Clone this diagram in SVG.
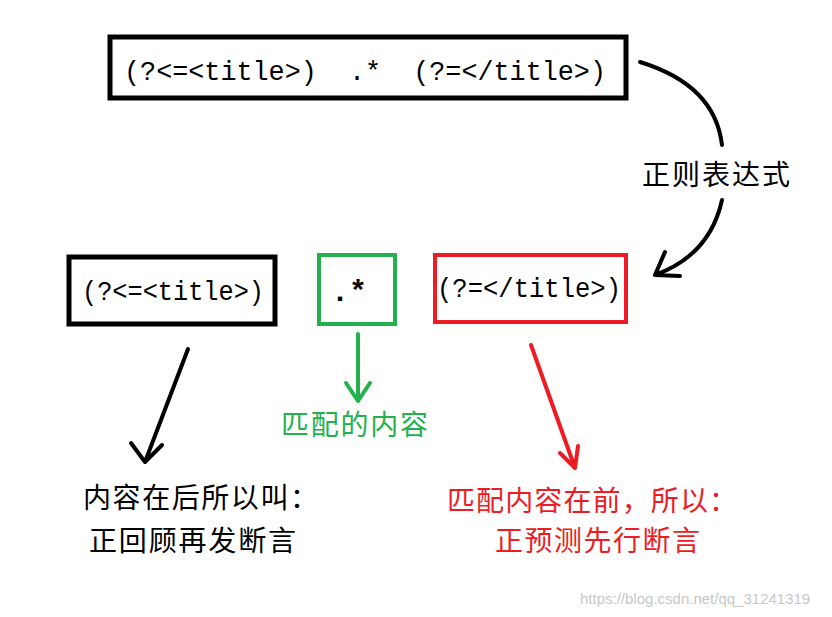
<svg xmlns="http://www.w3.org/2000/svg" width="832" height="617" viewBox="0 0 832 617">
<style>
.code{font-family:"Liberation Mono",monospace;fill:#000;white-space:pre}
.cn{font-family:"Noto Sans CJK SC",sans-serif;font-size:28px}
.ln{fill:none;stroke-width:4;stroke-linecap:round;stroke-linejoin:round}
</style>
<rect width="832" height="617" fill="#fff"/>
<g id="regex"><rect x="110" y="37" width="516" height="61" fill="none" stroke="#000" stroke-width="5"/>
<text class="code" x="124" y="80" font-size="27" xml:space="preserve" textLength="482" lengthAdjust="spacingAndGlyphs">(?&lt;=&lt;title&gt;)  .*  (?=&lt;/title&gt;)</text></g>
<g id="lookbehind"><rect x="69" y="257" width="206" height="67" fill="none" stroke="#000" stroke-width="5"/>
<text class="code" x="82" y="300" font-size="27" textLength="182" lengthAdjust="spacingAndGlyphs">(?&lt;=&lt;title&gt;)</text></g>
<g id="dotstar"><rect x="319" y="255" width="76" height="69" fill="none" stroke="#22b14c" stroke-width="4"/>
<text class="code" x="331" y="301" font-size="30" font-weight="bold">.*</text></g>
<g id="lookahead"><rect x="435" y="255" width="191" height="67" fill="none" stroke="#ed1c24" stroke-width="4"/>
<text class="code" x="437" y="297" font-size="27" textLength="184" lengthAdjust="spacingAndGlyphs">(?=&lt;/title&gt;)</text></g>
<g id="labels">
<text class="cn" x="642" y="185" fill="#000" textLength="148">正则表达式</text>
<text class="cn" x="281" y="435" fill="#22b14c" textLength="147">匹配的内容</text>
<text class="cn" x="83" y="508" fill="#000" textLength="235">内容在后所以叫：</text>
<text class="cn" x="89" y="551" fill="#000" textLength="207">正回顾再发断言</text>
<text class="cn" x="447" y="511" fill="#ed1c24" textLength="290">匹配内容在前，所以：</text>
<text class="cn" x="495" y="551" fill="#ed1c24" textLength="205">正预测先行断言</text>
<text x="580" y="604" font-family="Liberation Sans,sans-serif" font-size="15" fill="#c8c8c8">https://blog.csdn.net/qq_31241319</text>
</g>
<g id="connectors">
<path class="ln" stroke="#000" d="M640 62 Q715 85 722 145"/>
<path class="ln" stroke="#000" d="M722 200 Q710 255 655 275 M655 275 L665 252 M655 275 L680 276"/>
<path class="ln" stroke="#000" d="M188 349 L145 462 M145 462 L131 443 M145 462 L162 445"/>
<path class="ln" stroke="#22b14c" d="M358 334 L358 401 M358 401 L346 383 M358 401 L370 383"/>
<path class="ln" stroke="#ed1c24" d="M531 345 L575 468 M575 468 L560 453 M575 468 L578 446"/>
</g>
</svg>
